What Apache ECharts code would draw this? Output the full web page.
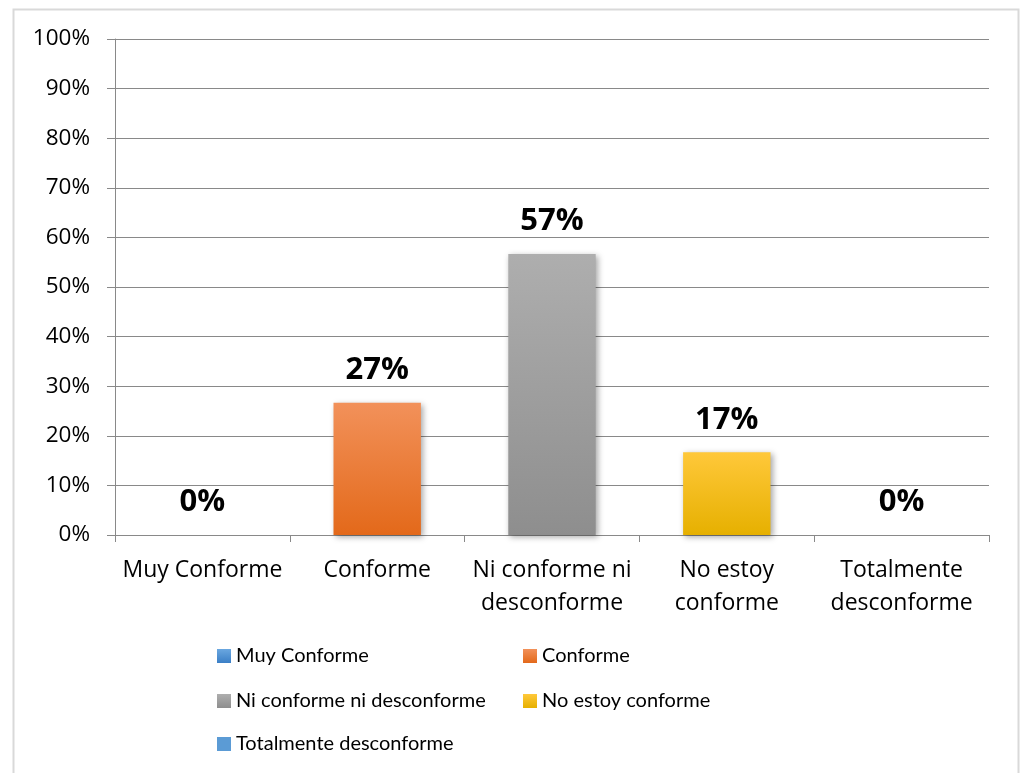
<!DOCTYPE html>
<html>
<head>
<meta charset="utf-8">
<script src="https://cdn.jsdelivr.net/npm/echarts@6/dist/echarts.min.js"></script>
<style>
html,body{margin:0;padding:0;background:#fff;}
#chart{width:1023px;height:773px;}
</style>
</head>
<body>
<div id="chart"></div>
<script>
var categories = ['Muy Conforme', 'Conforme', 'Ni conforme ni\ndesconforme', 'No estoy\nconforme', 'Totalmente\ndesconforme'];
var seriesNames = ['Muy Conforme', 'Conforme', 'Ni conforme ni desconforme', 'No estoy conforme', 'Totalmente desconforme'];
var values = [0, 26.67, 56.67, 16.67, 0];
var yTicks = [0, 10, 20, 30, 40, 50, 60, 70, 80, 90, 100];

var gradients = [
  ['#6aa7e0', '#3b7fc6'],
  ['#f2915a', '#e3691a'],
  ['#aeaeae', '#8e8e8e'],
  ['#ffc83a', '#e6b000'],
  ['#5b9bd5', '#5b9bd5']
];

function grad(c) {
  return new echarts.graphic.LinearGradient(0, 0, 0, 1, [
    {offset: 0, color: c[0]}, {offset: 1, color: c[1]}
  ]);
}

var font = '"Open Sans", Lato, sans-serif';
var legendFont = 'Lato, "Open Sans", sans-serif';

var series = seriesNames.map(function (name, i) {
  var d = categories.map(function (c, j) { return j === i ? values[i] : '-'; });
  return {
    name: name,
    type: 'bar',
    stack: 'all',
    barWidth: '50%',
    data: d,
    itemStyle: {
      color: grad(gradients[i]),
      shadowBlur: 6,
      shadowColor: 'rgba(0,0,0,0.35)',
      shadowOffsetX: 2,
      shadowOffsetY: 2
    },
    label: {
      show: true,
      position: 'top',
      distance: 17,
      formatter: function (p) { return Math.round(p.value) + '%'; },
      fontFamily: font,
      fontWeight: 'bold',
      fontSize: 31,
      color: '#000'
    }
  };
});

var legendPos = [
  {left: 217, top: 646},
  {left: 523, top: 646},
  {left: 217, top: 691},
  {left: 523, top: 691},
  {left: 217, top: 734}
];
var legends = seriesNames.map(function (n, i) {
  return {
    data: [n],
    left: legendPos[i].left,
    top: legendPos[i].top,
    padding: 0,
    itemWidth: 14,
    itemHeight: 14,
    icon: 'rect',
    selectedMode: false,
    textStyle: {fontFamily: legendFont, fontSize: 20, color: '#000'}
  };
});

var chart = echarts.init(document.getElementById('chart'), null, {renderer: 'canvas'});
chart.setOption({
  animation: false,
  backgroundColor: '#fff',
  graphic: [{
    type: 'rect',
    shape: {x: 13.5, y: 9.5, width: 1005, height: 800},
    style: {fill: 'none', stroke: '#d9d9d9', lineWidth: 2},
    silent: true
  }],
  grid: {left: 115, top: 39, right: 34, bottom: 238, containLabel: false},
  legend: legends,
  xAxis: {
    type: 'category',
    data: categories,
    axisLine: {lineStyle: {color: '#898989', width: 1}},
    axisTick: {show: true, length: 7, alignWithLabel: false, lineStyle: {color: '#898989'}},
    axisLabel: {
      fontFamily: font, fontSize: 23, color: '#000', margin: 19, lineHeight: 33,
      interval: 0
    }
  },
  yAxis: {
    type: 'value',
    min: 0,
    max: 100,
    interval: 10,
    axisLine: {show: true, lineStyle: {color: '#898989'}},
    axisTick: {show: true, length: 8, lineStyle: {color: '#898989'}},
    splitLine: {lineStyle: {color: '#898989', width: 1}},
    axisLabel: {
      fontFamily: font, fontSize: 22.5, color: '#000', margin: 25,
      formatter: function (v) { return yTicks.indexOf(v) >= 0 ? v + '%' : ''; }
    }
  },
  series: series
});
</script>
</body>
</html>
